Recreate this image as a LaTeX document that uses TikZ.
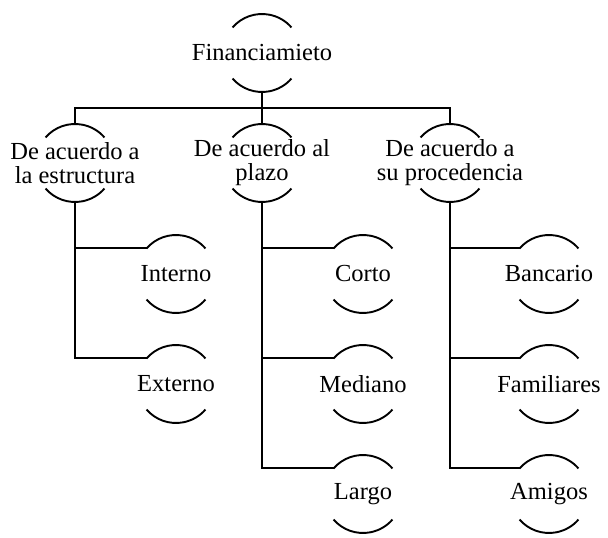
\documentclass[tikz,border=0pt]{standalone}
\usepackage{fontspec}
\setmainfont{Liberation Serif}
\newcommand\arcR{39}
\newcommand\arcA{41}
\tikzset{
  lbl/.style={inner sep=0pt, align=center, font=\fontsize{24.5}{24}\selectfont},
  arcline/.style={line width=1.9pt},
  conn/.style={line width=1.9pt},
}
% draws the two arcs of a node and defines its anchor coordinates
\newcommand\mkarcs[1]{%
  \draw[arcline] ([shift={(180-\arcA:\arcR pt)}]#1.center) arc[start angle=180-\arcA, end angle=\arcA, radius=\arcR pt];
  \draw[arcline] ([shift={(180+\arcA:\arcR pt)}]#1.center) arc[start angle=180+\arcA, end angle=360-\arcA, radius=\arcR pt];
  \coordinate (#1-top) at ([yshift=\arcR pt]#1.center);
  \coordinate (#1-bot) at ([yshift=-\arcR pt]#1.center);
  \coordinate (#1-tl) at ([shift={(180-\arcA:\arcR pt)}]#1.center);
}
\begin{document}
\begin{tikzpicture}[x=1pt,y=1pt]
\useasboundingbox (0,0) rectangle (608,538);
\node[lbl] (F) at (262,485) {Financiamieto};
\node[lbl] (A) at (75,375) {De acuerdo a\\la estructura};
\node[lbl] (B) at (262,375) {De acuerdo al\\plazo};
\node[lbl] (C) at (450,375) {De acuerdo a\\su procedencia};
\node[lbl] (A1) at (176,264) {Interno};
\node[lbl] (A2) at (176,154) {Externo};
\node[lbl] (B1) at (363,264) {Corto};
\node[lbl] (B2) at (363,154) {Mediano};
\node[lbl] (B3) at (363,44) {Largo};
\node[lbl] (C1) at (549,264) {Bancario};
\node[lbl] (C2) at (549,154) {Familiares};
\node[lbl] (C3) at (549,44) {Amigos};
\foreach \n in {F,A,B,C,A1,A2,B1,B2,B3,C1,C2,C3} {\mkarcs{\n}}
\coordinate (bus) at (262,430);
\draw[conn] (F-bot) -- (bus);
\draw[conn] (A-top) |- (bus) -| (C-top);
\draw[conn] (bus) -- (B-top);
\draw[conn] (A-bot) |- (A1-tl);
\draw[conn] (A-bot) |- (A2-tl);
\draw[conn] (B-bot) |- (B1-tl);
\draw[conn] (B-bot) |- (B2-tl);
\draw[conn] (B-bot) |- (B3-tl);
\draw[conn] (C-bot) |- (C1-tl);
\draw[conn] (C-bot) |- (C2-tl);
\draw[conn] (C-bot) |- (C3-tl);
\end{tikzpicture}
\end{document}
